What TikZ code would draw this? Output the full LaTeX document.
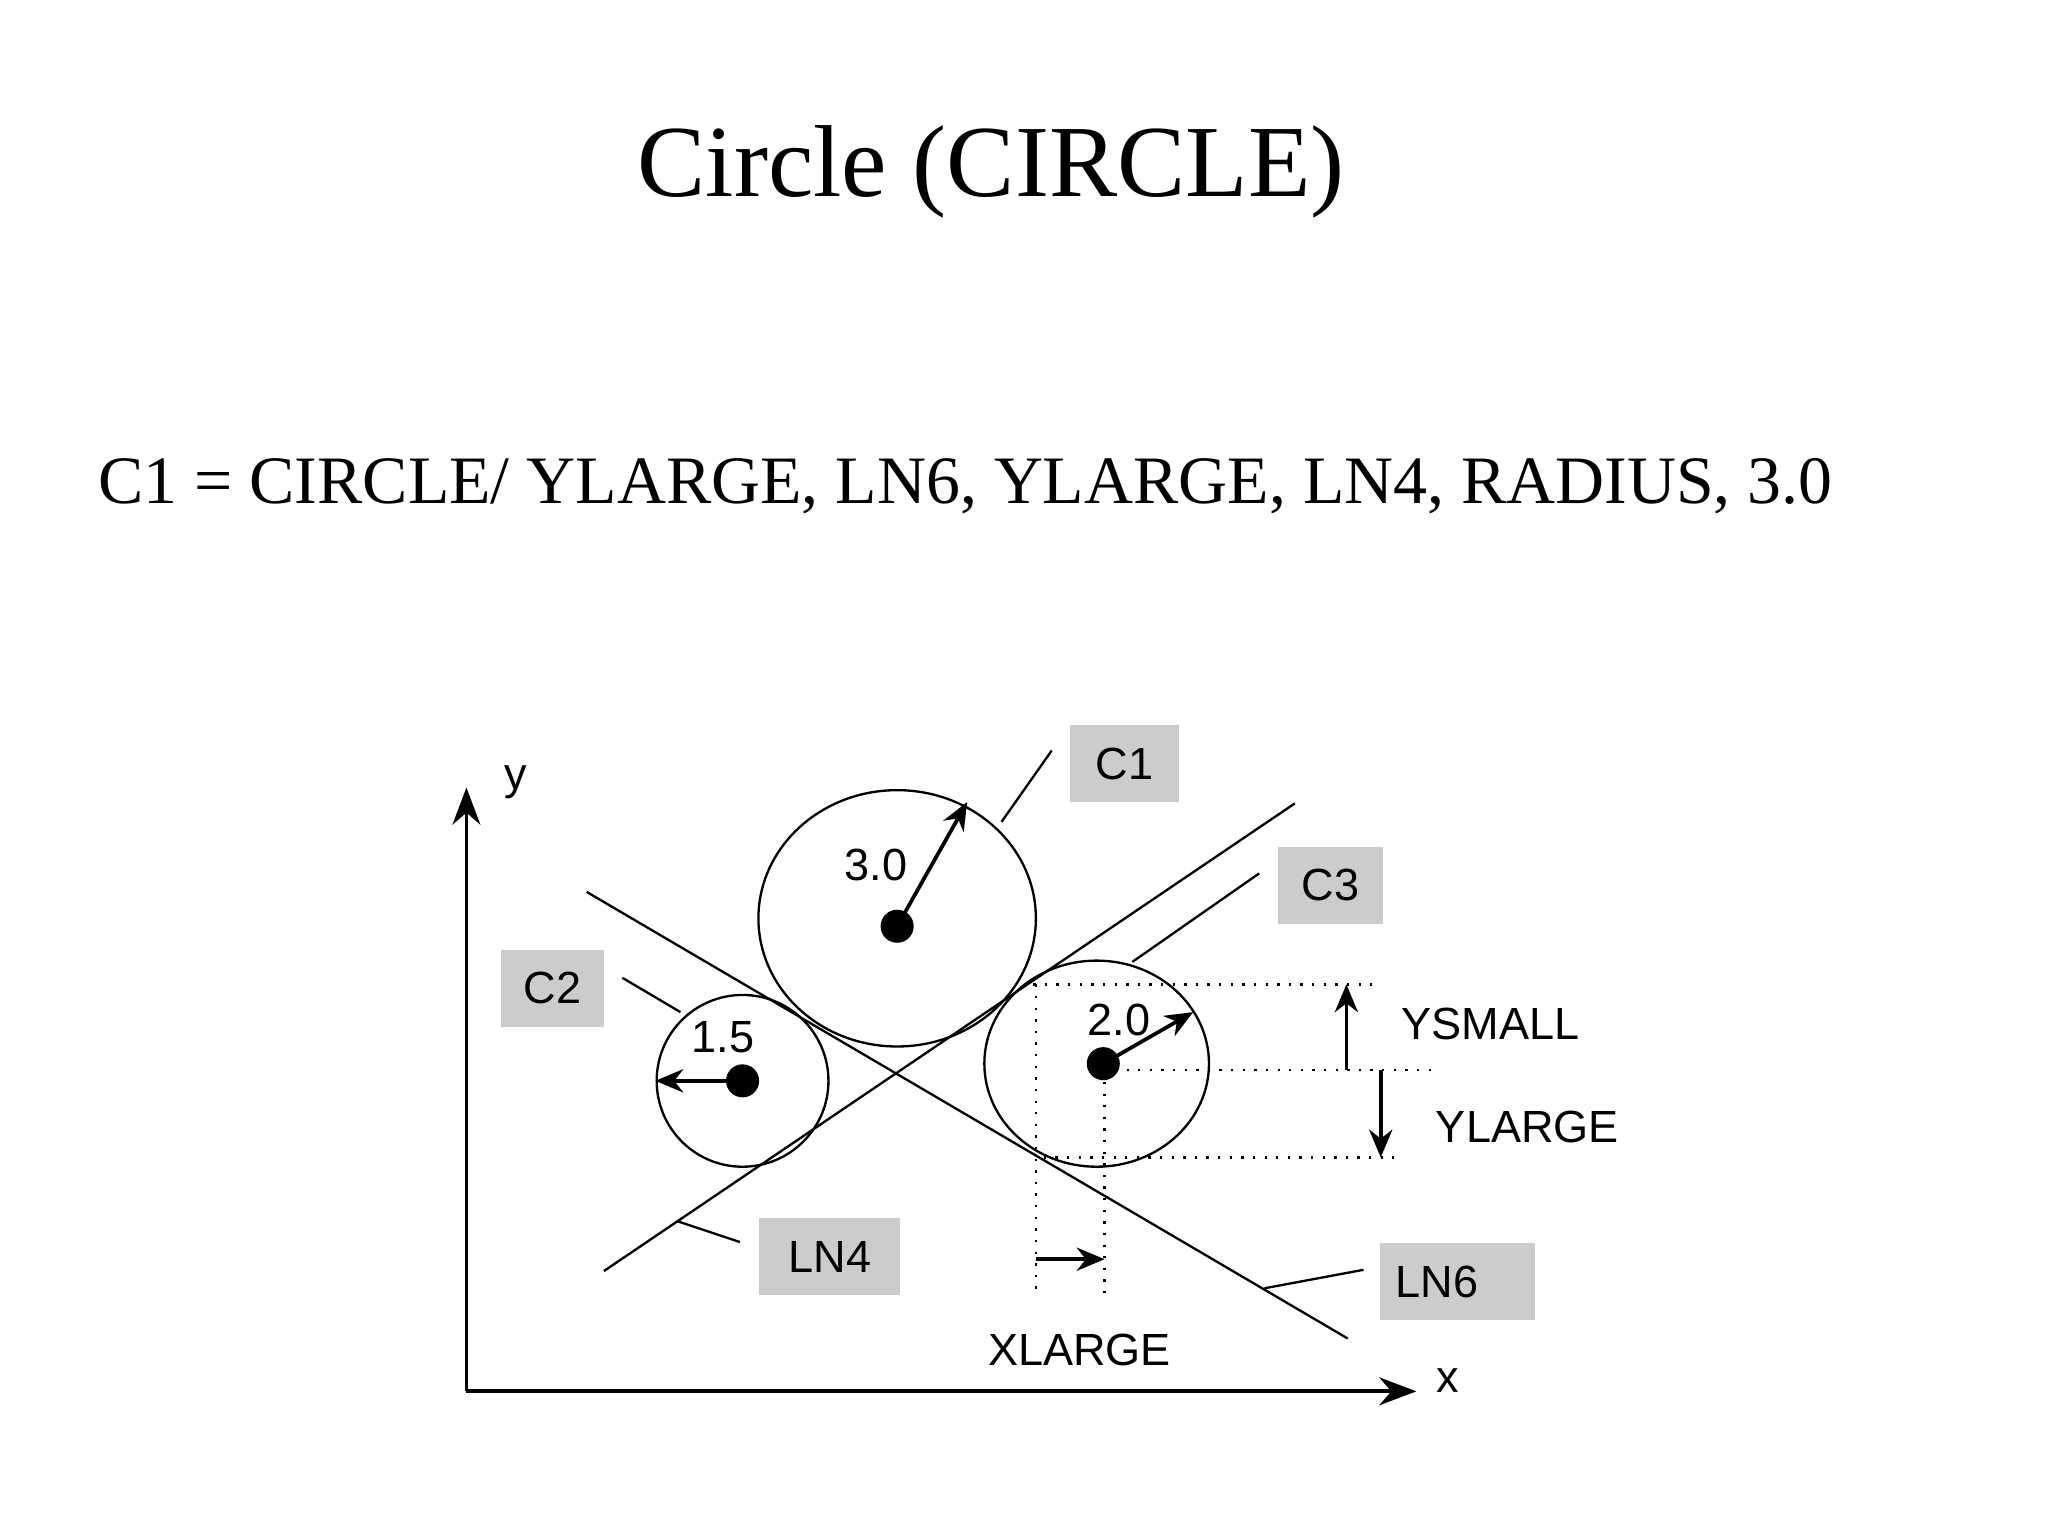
\documentclass[tikz,border=0pt]{standalone}
\usepackage{fontspec}
\setmainfont{Liberation Serif}
\newfontfamily\arial{Liberation Sans}
\usetikzlibrary{arrows.meta}
\begin{document}
\begin{tikzpicture}[x=0.01cm,y=-0.01cm,
  lbl/.style={font=\arial\fontsize{9.7}{11}\selectfont},
  tag/.style={fill=black!20,font=\arial\fontsize{9.7}{11}\selectfont,minimum width=#1,minimum height=58*0.01cm,inner sep=0},
  thin/.style={line width=0.5pt},
  dot/.style={circle,fill=black,minimum size=0.25cm,inner sep=0},
  arr/.style={line width=0.8pt,-{Stealth[length=6pt,width=5pt]}},
  dots/.style={dotted,line width=0.5pt}]
\useasboundingbox (0,0) rectangle (1550,1162);
\node (title) at (750,130) {\fontsize{22}{26}\selectfont Circle (CIRCLE)};
\node[anchor=west] (formula) at (62,368) {\fontsize{14.6}{18}\selectfont C1 = CIRCLE/ YLARGE, LN6, YLARGE, LN4, RADIUS, 3.0};
% axes
\coordinate (O) at (353,1053);
\coordinate (ytop) at (353,596);
\coordinate (xend) at (1072,1053);
\draw[line width=0.8pt,-{Stealth[length=8pt,width=6pt]}] (O) -- (ytop);
\draw[line width=0.8pt,-{Stealth[length=8pt,width=6pt]}] (O) -- (xend);
\node[lbl] (ylab) at (390,592) {y};
\node[lbl] (xlab) at (1096,1045) {x};
% circles
\draw[thin] (679,695) ellipse [x radius=105, y radius=97];
\draw[thin] (562,818) ellipse [x radius=65, y radius=65];
\draw[thin] (830,805) ellipse [x radius=85, y radius=78];
\node[dot] (d1) at (679,701) {};
\node[dot] (d2) at (562,818) {};
\node[dot] (d3) at (835,805) {};
\coordinate (r1) at (732,607);
\coordinate (r2) at (496,818);
\coordinate (r3) at (903,766);
\draw[arr] (d1.center) -- (r1);
\draw[arr] (d2.center) -- (r2);
\draw[arr] (d3.center) -- (r3);
\node[lbl] (t1) at (663,655) {3.0};
\node[lbl] (t2) at (547,785) {1.5};
\node[lbl] (t3) at (847,772) {2.0};
% lines
\coordinate (a6) at (444,675); \coordinate (b6) at (1020,1013);
\coordinate (a4) at (457,962); \coordinate (b4) at (980,608);
\draw[thin] (a6) -- (b6);
\draw[thin] (a4) -- (b4);
% tags
\node[tag=82*0.01cm] (C1) at (851,578) {C1};
\node[tag=79*0.01cm] (C3) at (1007,670) {C3};
\node[tag=78*0.01cm] (C2) at (418,748) {C2};
\node[tag=107*0.01cm] (LN4) at (628,951) {LN4};
\node[tag=117*0.01cm] (LN6) at (1103,970) {\hspace*{-0.9em}LN6};
\draw[thin] (758,622) -- (796,568);
\draw[thin] (857,728) -- (953,661);
\draw[thin] (471,740) -- (515,766);
\draw[thin] (512,924) -- (560,940);
\draw[thin] (957,975) -- (1032,961);
% dimension lines
\draw[dots] (782,745) -- (1043,745);
\draw[dots] (835,810) -- (1085,810);
\draw[dots] (790,876) -- (1055,876);
\draw[dots] (784,745) -- (784,980);
\draw[dots] (836,810) -- (836,980);
\draw[arr] (1019,810) -- (1019,745);
\draw[arr] (1045,810) -- (1045,876);
\draw[arr] (784,953) -- (836,953);
\node[lbl] (ys) at (1128,775) {YSMALL};
\node[lbl] (yl) at (1156,853) {YLARGE};
\node[lbl] (xl) at (817,1022) {XLARGE};
\end{tikzpicture}
\end{document}
